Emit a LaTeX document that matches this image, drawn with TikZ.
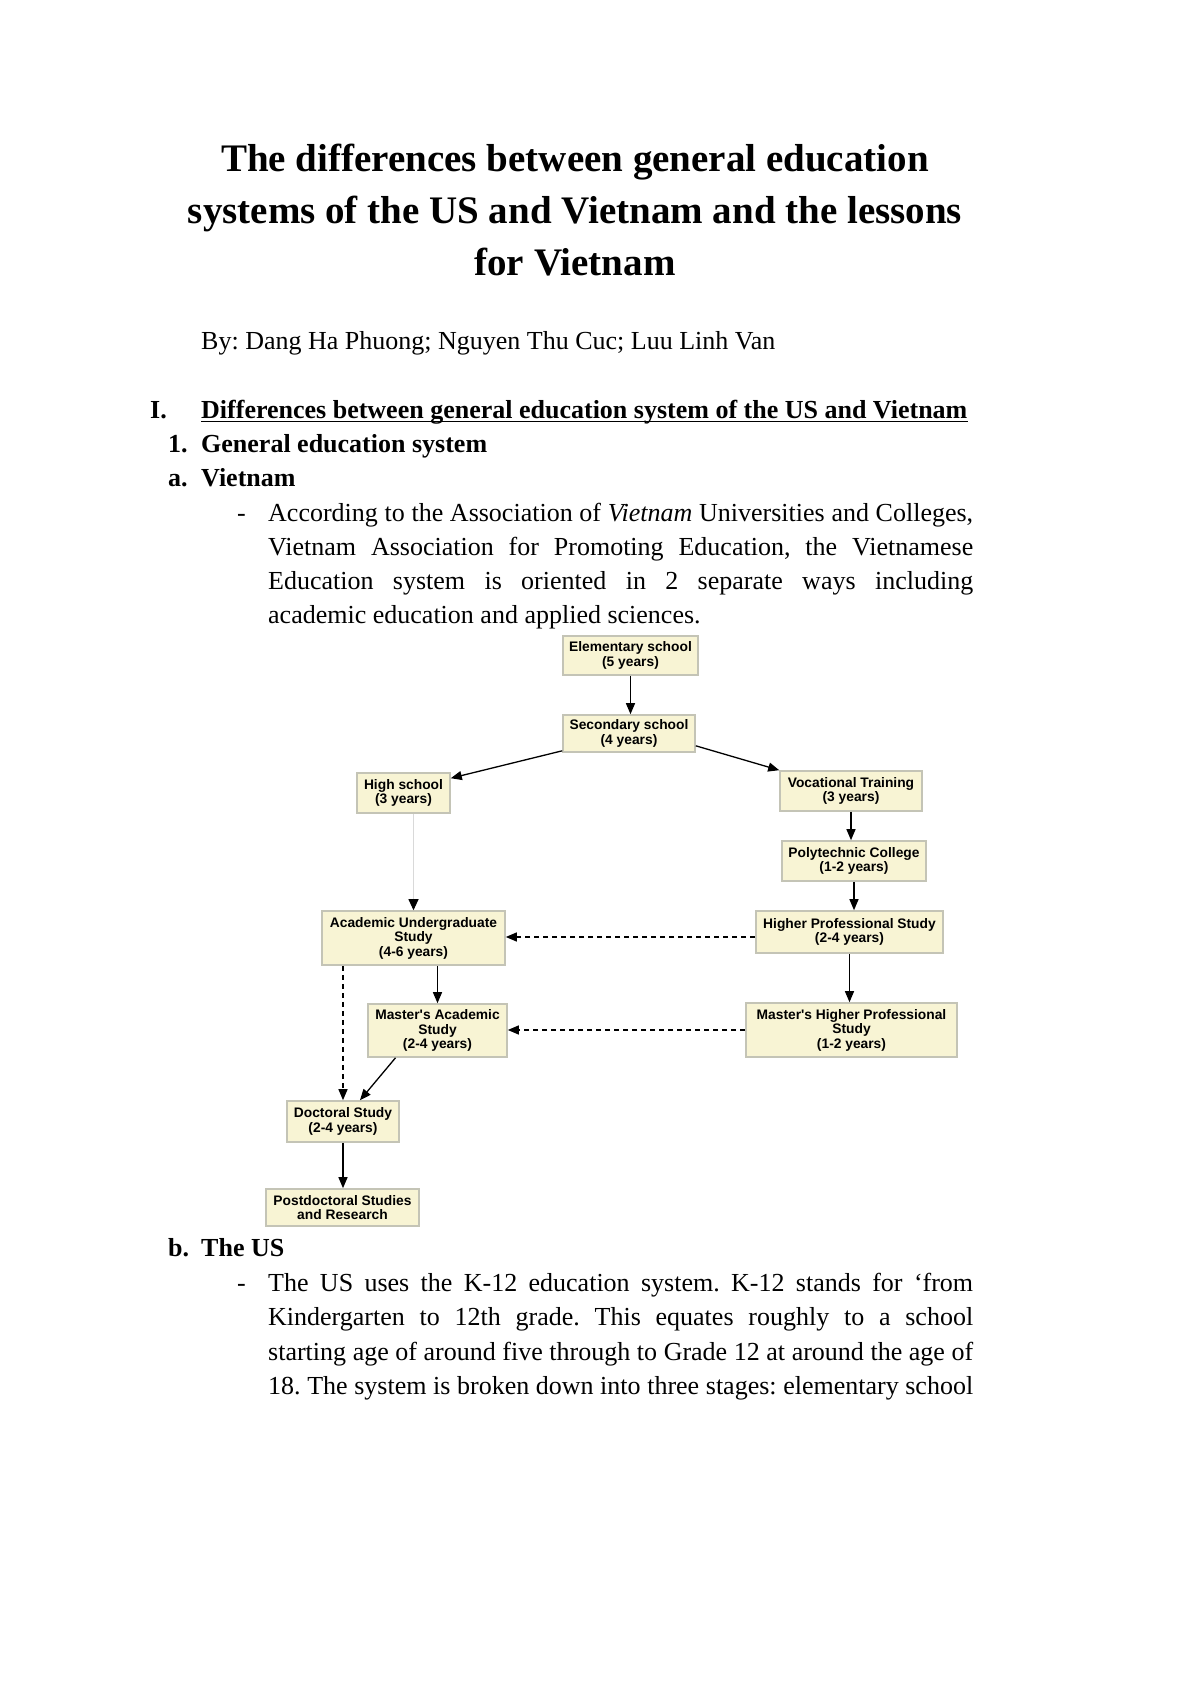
\documentclass[tikz,border=0pt]{standalone}
\usepackage{fontspec}
\setmainfont{Liberation Serif}
\newfontfamily\boxfont{Liberation Sans}
\usetikzlibrary{arrows.meta}
\definecolor{boxfill}{HTML}{F8F4D4}
\definecolor{boxline}{HTML}{C4C4B6}
\frenchspacing
\tikzset{
 box/.style={draw=boxline, line width=1.6pt, fill=boxfill, align=center, inner sep=0pt,
   font=\boxfont\bfseries\fontsize{13.8}{14.5}\selectfont},
 arr/.style={line width=1.3pt, -{Triangle[length=11pt,width=9pt]}},
 darr/.style={arr, dash pattern=on 5pt off 4pt},
 faint/.style={line width=1pt, draw=black!15, -{Triangle[length=11pt,width=10pt,color=black]}},
 body/.style={anchor=base west, inner sep=0pt, font=\fontsize{26}{30}\selectfont\frenchspacing},
 bodyb/.style={anchor=base west, inner sep=0pt, font=\fontsize{26}{30}\selectfont\bfseries},
 ttl/.style={anchor=base, inner sep=0pt, font=\fontsize{39}{52}\selectfont\bfseries},
}
\begin{document}
\begin{tikzpicture}[x=1pt,y=-1pt]
\useasboundingbox[fill=white] (0,0) rectangle (1200,1698);
% title
\node[ttl] (t1) at (575,171) {The differences between general education};
\node[ttl] (t2) at (575,223) {systems of the US and Vietnam and the lessons};
\node[ttl] (t3) at (575,275) {for Vietnam};
\node[body] (by) at (201,349) {By: Dang Ha Phuong; Nguyen Thu Cuc; Luu Linh Van};
% headings
\node[bodyb] (hI) at (150,418) {I.};
\node[bodyb] (h1) at (201,418) {Differences between general education system of the US and Vietnam};
\draw[line width=1.6pt] ([yshift=-3.5pt]h1.base west) -- ([yshift=-3.5pt]h1.base east);
\node[bodyb] (n1) at (168,452) {1.};
\node[bodyb] (g1) at (201,452) {General education system};
\node[bodyb] (na) at (168,486) {a.};
\node[bodyb] (va) at (201,486) {Vietnam};
\node[body] (d1) at (237,521) {-};
\node[body] (p1) at (268,521) {\makebox[705pt][s]{According to the Association of \textit{Vietnam} Universities and Colleges,}};
\node[body] (p2) at (268,555) {\makebox[705pt][s]{Vietnam Association for Promoting Education, the Vietnamese}};
\node[body] (p3) at (268,589) {\makebox[705pt][s]{Education system is oriented in 2 separate ways including}};
\node[body] (p4) at (268,623) {academic education and applied sciences.};
% diagram boxes
\node[box, minimum width=135pt, minimum height=39pt] (el) at (630.5,655.5) {Elementary school\\(5 years)};
\node[box, minimum width=132pt, minimum height=37pt] (se) at (629,733.5) {Secondary school\\(4 years)};
\node[box, minimum width=93pt, minimum height=40pt] (hs) at (403.5,793) {High school\\(3 years)};
\node[box, minimum width=142pt, minimum height=40pt] (vt) at (851,791) {Vocational Training\\(3 years)};
\node[box, minimum width=144pt, minimum height=40pt] (pc) at (854,861) {Polytechnic College\\(1-2 years)};
\node[box, minimum width=183pt, minimum height=54pt] (au) at (413.5,938) {Academic Undergraduate\\Study\\(4-6 years)};
\node[box, minimum width=187pt, minimum height=42pt] (hp) at (849.5,932) {Higher Professional Study\\(2-4 years)};
\node[box, minimum width=139pt, minimum height=53pt] (ma) at (437.5,1030.5) {Master's Academic\\Study\\(2-4 years)};
\node[box, minimum width=211pt, minimum height=54pt] (mh) at (851.5,1030) {Master's Higher Professional\\Study\\(1-2 years)};
\node[box, minimum width=112pt, minimum height=41pt] (dr) at (343,1121.5) {Doctoral Study\\(2-4 years)};
\node[box, minimum width=153pt, minimum height=37pt] (pd) at (342.5,1207.5) {Postdoctoral Studies\\and Research};
% connectors
\draw[arr] (el.south) -- (el.south |- se.north);
\draw[arr] ([yshift=2pt]se.south west) -- ([yshift=-6pt]hs.north east);
\draw[arr] ([yshift=7pt]se.south east) -- (vt.north west);
\draw[faint] ([xshift=10pt]hs.south) -- ([xshift=10pt]hs.south |- au.north);
\draw[arr] (vt.south) -- (vt.south |- pc.north);
\draw[arr] (pc.south) -- (pc.south |- hp.north);
\draw[darr] ([yshift=-5pt]hp.west) -- ([yshift=-5pt]hp.west -| au.east);
\draw[arr] (au.south -| ma) -- (ma.north);
\draw[arr] (hp.south) -- (hp.south |- mh.north);
\draw[darr] (mh.west) -- (mh.west -| ma.east);
\draw[darr] (au.south -| dr) -- (dr.north);
\draw[arr] ([xshift=-42pt]ma.south) -- ([xshift=17pt]dr.north);
\draw[arr] (dr.south) -- (dr.south |- pd.north);
% US section
\node[bodyb] (nb) at (168,1256) {b.};
\node[bodyb] (us) at (201,1256) {The US};
\node[body] (d2) at (237,1291) {-};
\node[body] (q1) at (268,1291) {\makebox[705pt][s]{The US uses the K-12 education system. K-12 stands for ‘from}};
\node[body] (q2) at (268,1325) {\makebox[705pt][s]{Kindergarten to 12th grade. This equates roughly to a school}};
\node[body] (q3) at (268,1360) {\makebox[705pt][s]{starting age of around five through to Grade 12 at around the age of}};
\node[body] (q4) at (268,1394) {\makebox[705pt][s]{18. The system is broken down into three stages: elementary school}};
\end{tikzpicture}
\end{document}
